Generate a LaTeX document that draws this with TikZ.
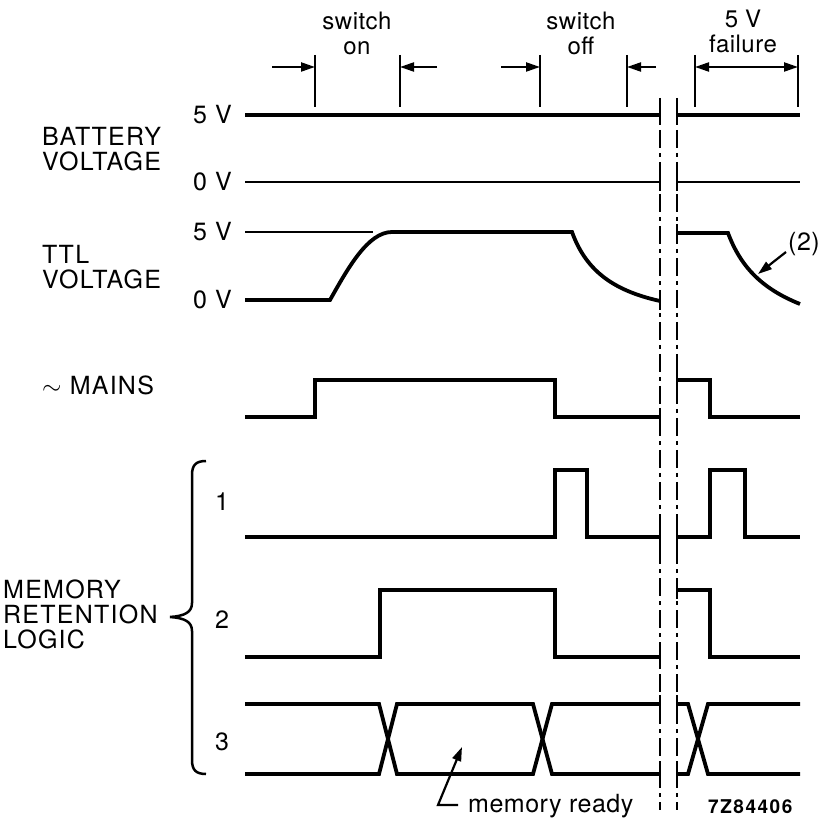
\documentclass[tikz,border=0pt]{standalone}
\usepackage{fontspec}
\setmainfont{TeX Gyre Heros}
\newfontfamily\capfont[LetterSpace=5]{TeX Gyre Heros}
\newfontfamily\lowfont[LetterSpace=2]{TeX Gyre Heros}
\newfontfamily\codefont[LetterSpace=8]{TeX Gyre Heros}
\usetikzlibrary{arrows.meta}
\begin{document}
\begin{tikzpicture}[x=1pt,y=-1pt,
  sig/.style={line width=3.8pt, line join=miter},
  thinln/.style={line width=2pt},
  midln/.style={line width=2.6pt},
  brk/.style={line width=2.3pt, dash pattern=on 18pt off 5pt on 4pt off 5pt},
  tickln/.style={line width=2.3pt},
  lab/.style={font={\capfont\fontsize{25}{25}\selectfont}, inner sep=0pt},
  sm/.style={font={\lowfont\fontsize{25}{25}\selectfont}, inner sep=0pt},
  toplab/.style={font={\lowfont\fontsize{24}{24.5}\selectfont}, inner sep=0pt, align=center, anchor=north},
  tip/.tip={Triangle[length=14pt,width=9pt]},
  arr/.style={-tip, line width=2.2pt}
]
\useasboundingbox (0,0) rectangle (820,818);

% ---- timing marks at top
\foreach \xx/\nm in {315/m1,400/m2,540/m3,627/m4,695/m5,798/m6}{
  \coordinate (\nm t) at (\xx,55);
  \coordinate (\nm b) at (\xx,107);
  \draw[thinln] (\nm t) -- (\nm b);
}
\coordinate (a1) at (272,67); \coordinate (a1e) at (315,67);
\coordinate (a2) at (437,67); \coordinate (a2e) at (400,67);
\coordinate (a3) at (501,67); \coordinate (a3e) at (540,67);
\coordinate (a4) at (656,67); \coordinate (a4e) at (627,67);
\coordinate (a5) at (695,67); \coordinate (a5e) at (798,67);
\draw[arr] (a1) -- (a1e);
\draw[arr] (a2) -- (a2e);
\draw[arr] (a3) -- (a3e);
\draw[arr] (a4) -- (a4e);
\draw[tip-tip, line width=2.2pt] (a5) -- (a5e);

\node[toplab] (son) at (357,12) {switch\\on};
\node[toplab] (sof) at (581,12) {switch\\off};
\node[toplab] (fv) at (743,10) {5 V\\failure};

% ---- left labels
\node[lab, anchor=north west, align=left] (bat) at (42,127) {BATTERY\\VOLTAGE};
\node[lab, anchor=north west, align=left] (ttl) at (42,245) {TTL\\VOLTAGE};
\node[lab, anchor=base west] (mains) at (42,395) {$\sim$ MAINS};
\node[lab, anchor=north west, align=left] (mem) at (3,580) {MEMORY\\RETENTION\\LOGIC};
\node[lab, anchor=base east] (b5) at (232,124) {5 V};
\node[lab, anchor=base east] (b0) at (232,191) {0 V};
\node[lab, anchor=base east] (t5) at (232,241) {5 V};
\node[lab, anchor=base east] (t0) at (232,309) {0 V};
\node[lab] (n1) at (222,502) {1};
\node[lab] (n2) at (222,620) {2};
\node[lab] (n3) at (222,742) {3};

% ---- brace
\draw[line width=2.5pt] (206,461) .. controls (196,461) and (192,465) .. (192,475)
  -- (192,603) .. controls (192,612) and (185,616) .. (170,617)
  .. controls (185,618) and (192,622) .. (192,631)
  -- (192,760) .. controls (192,770) and (196,774) .. (206,774);

% ---- battery
\draw[sig] (245,115) -- (660,115);
\draw[sig] (677,115) -- (800,115);
\draw[midln] (245,182) -- (660,182);
\draw[midln] (677,182) -- (800,182);

% ---- TTL
\draw[thinln] (245,232) -- (373,232);
\draw[sig] (245,300) -- (330,300) .. controls (348,268) and (368,232) .. (392,232)
  -- (572,232) .. controls (585,268) and (610,290) .. (660,301);
\draw[sig] (677,233) -- (728,233) .. controls (740,265) and (760,288) .. (800,304);

% ---- mains
\draw[sig] (245,417) -- (315,417) -- (315,380) -- (555,380) -- (555,417) -- (660,417);
\draw[sig] (677,380) -- (710,380) -- (710,417) -- (800,417);

% ---- logic 1
\draw[sig] (245,537) -- (555,537) -- (555,470) -- (587,470) -- (587,537) -- (660,537);
\draw[sig] (677,537) -- (710,537) -- (710,470) -- (745,470) -- (745,537) -- (800,537);

% ---- logic 2
\draw[sig] (245,657) -- (380,657) -- (380,590) -- (555,590) -- (555,657) -- (660,657);
\draw[sig] (677,590) -- (710,590) -- (710,657) -- (800,657);

% ---- logic 3
\draw[sig] (245,704) -- (379,704) -- (397,774) -- (533,774) -- (552,704) -- (660,704);
\draw[sig] (245,774) -- (379,774) -- (397,704) -- (533,704) -- (552,774) -- (660,774);
\draw[sig] (677,704) -- (688,704) -- (708,774) -- (800,774);
\draw[sig] (677,774) -- (688,774) -- (708,704) -- (800,704);

% ---- break lines with end ticks
\draw[brk] (660,98) -- (660,810);
\draw[brk] (677,98) -- (677,810);
\foreach \yy in {115,182,301,417,537,657,704,774}{
  \draw[tickln] (660,\yy-9) -- (660,\yy+9);
}
\foreach \yy in {115,182,233,380,537,590,704,774}{
  \draw[tickln] (677,\yy-9) -- (677,\yy+9);
}

% ---- annotations
\node[sm] (two) at (804,244) {(2)};
\coordinate (twoa) at (786,252);
\coordinate (twob) at (758,274);
\draw[arr] (twoa) -- (twob);

\node[sm, anchor=base west] (mr) at (468,812) {memory ready};
\coordinate (mrt) at (462,747);
\coordinate (mrc) at (438,805);
\coordinate (mre) at (458,805);
\draw[tip-, line width=2.2pt] (mrt) -- (mrc) -- (mre);

\node[font={\codefont\bfseries\fontsize{19}{20}\selectfont}, anchor=base west, inner sep=0pt] (code) at (708,813) {7Z84406};
\end{tikzpicture}
\end{document}
